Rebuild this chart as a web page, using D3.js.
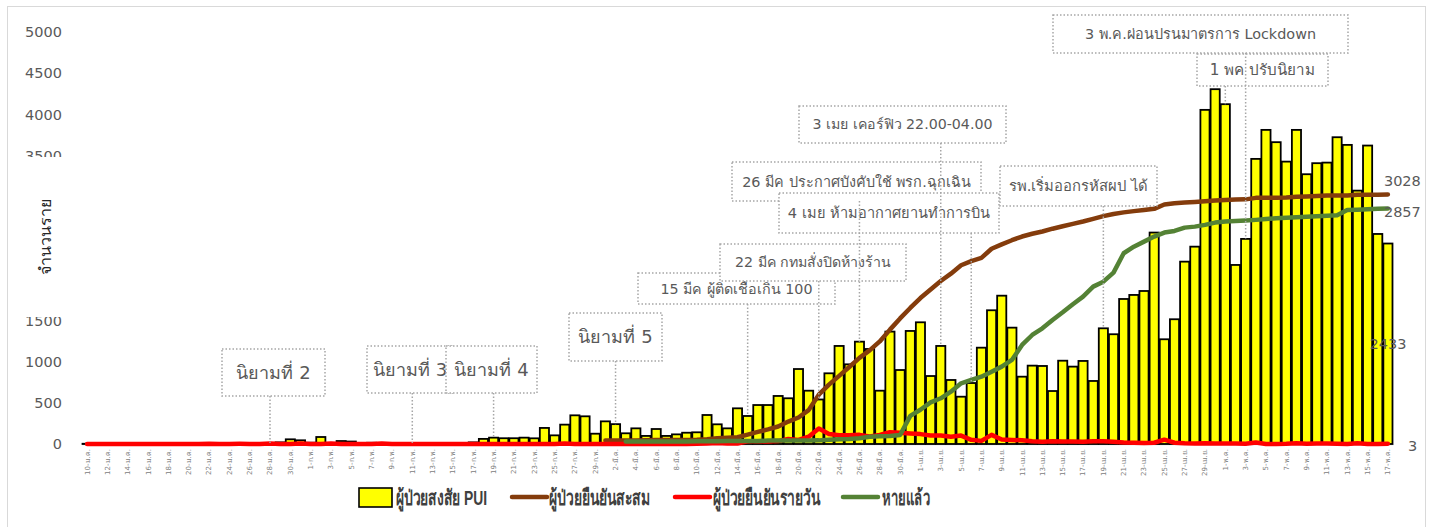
<!DOCTYPE html>
<html>
<head>
<meta charset="utf-8">
<script src="https://cdn.jsdelivr.net/npm/d3@7"></script>
<style>
body { margin: 0; background: #fff; }
</style>
</head>
<body>
<svg id="chart" width="1433" height="527" font-family="Tahoma, 'DejaVu Sans', sans-serif"></svg>
<script>
// categories: one bar per day, 10 Jan - 17 May
const monthNames = ["ม.ค.", "ก.พ.", "มี.ค.", "เม.ย.", "พ.ค."]
const monthFirst = [10, 1, 1, 1, 1]
const monthLast = [31, 29, 31, 30, 17]

const dates = []
monthNames.forEach((m, i) => {
    for (let d = monthFirst[i]; d <= monthLast[i]; d++) dates.push(d + "-" + m)
})

// ผู้ป่วยสงสัย PUI (daily)
const pui = [
    3, 0, 0, 1, 0, 0, 1, 0, 0, 0, 1, 0, 0, 1, 0, 2, 1, 12, 8, 20, 57, 45,
    16, 85, 10, 36, 30, 5, 15, 3, 2, 2, 12, 3, 3, 10, 3, 5, 20, 62, 77, 70, 70, 77, 69, 195, 105, 235, 348, 336, 125,
    275, 241, 130, 190, 98, 182, 98, 117, 137, 142, 352, 239, 190, 433, 340, 473, 473, 583, 555, 910, 647, 540, 858, 1190, 967, 1242, 1153, 647, 1364, 898, 1372,
    1477, 825, 1190, 777, 574, 740, 1169, 1623, 1800, 1412, 817, 951, 947, 643, 1011, 939, 1008, 765, 1404, 1332, 1760, 1809, 1857, 2566, 1271, 1514, 2213, 2395, 4055, 4306,
    4124, 2173, 2489, 3460, 3812, 3663, 3427, 3812, 3274, 3408, 3415, 3723, 3630, 3075, 3622, 2549, 2433
]

// ผู้ป่วยยืนยันสะสม, starts 1-มี.ค.
const confirmedStart = "1-มี.ค."
const confirmedTotal = [
    42, 43, 43, 43, 47, 48, 50, 50, 50, 53, 59, 70, 75, 82, 114, 147, 177, 212, 272, 322, 411, 599, 721, 827, 934, 1045, 1136, 1245, 1388, 1524, 1651,
    1771, 1875, 1978, 2067, 2169, 2220, 2258, 2369, 2423, 2473, 2518, 2551, 2579, 2613, 2643, 2672, 2700, 2733, 2765, 2792, 2811, 2826, 2839, 2854, 2907, 2922, 2931, 2938, 2947, 2954,
    2960, 2966, 2969, 2987, 2988, 2989, 2992, 3000, 3004, 3009, 3015, 3017, 3017, 3025, 3025, 3025, 3028
]

// ผู้ป่วยยืนยันรายวัน
const confirmedDaily = [
    0, 0, 0, 1, 0, 0, 0, 1, 0, 0, 0, 0, 2, 0, 1, 2, 1, 0, 6, 0, 0, 5,
    0, 0, 6, 0, 0, 0, 0, 7, 0, 0, 1, 0, 0, 0, 1, 0, 1, 0, 0, 0, 0, 0, 0, 0, 0, 5, 0, 1, 1,
    0, 1, 0, 0, 4, 1, 2, 0, 0, 3, 6, 11, 5, 7, 32, 33, 30, 35, 60, 50, 89, 188, 122, 106, 107, 111, 91, 109, 143, 136, 127,
    120, 104, 103, 89, 102, 51, 38, 111, 54, 50, 45, 33, 28, 34, 30, 29, 28, 33, 32, 27, 19, 15, 13, 15, 53, 15, 9, 7, 9, 7,
    6, 6, 3, 18, 1, 1, 3, 8, 4, 5, 6, 2, 0, 8, 0, 0, 3
]

// หายแล้ว, starts 3-มี.ค.
const recoveredStart = "3-มี.ค."
const recovered = [
    31, 31, 31, 31, 31, 31, 31, 33, 33, 34, 35, 35, 35, 35, 41, 42, 42, 42, 42, 44, 52, 57, 61, 70, 88, 95, 97, 110, 342,
    416, 505, 555, 635, 737, 777, 817, 878, 939, 1020, 1202, 1323, 1404, 1505, 1598, 1696, 1788, 1910, 1970, 2080, 2315, 2395, 2456, 2517, 2566, 2586, 2626, 2638, 2659, 2687,
    2699, 2705, 2712, 2720, 2730, 2740, 2747, 2752, 2758, 2765, 2770, 2776, 2840, 2844, 2850, 2855, 2857
]

const yTicks = [0, 500, 1000, 1500, 2000, 2500, 3000, 3500, 4000, 4500, 5000]

const notes = [
    { text: "นิยามที่ 2", date: "28-ม.ค." },
    { text: "นิยามที่ 3", date: "11-ก.พ." },
    { text: "นิยามที่ 4", date: "19-ก.พ." },
    { text: "นิยามที่ 5", date: "2-มี.ค." },
    { text: "15 มีค ผู้ติดเชื้อเกิน 100", date: "15-มี.ค." },
    { text: "22 มีค กทมสั่งปิดห้างร้าน", date: "22-มี.ค." },
    { text: "26 มีค ประกาศบังคับใช้ พรก.ฉุกเฉิน", date: "26-มี.ค." },
    { text: "3 เมย เคอร์ฟิว 22.00-04.00", date: "3-เม.ย." },
    { text: "4 เมย ห้ามอากาศยานทำการบิน", date: "6-เม.ย." },
    { text: "รพ.เริ่มออกรหัสผป ได้", date: "19-เม.ย." },
    { text: "1 พค ปรับนิยาม", date: "1-พ.ค." },
    { text: "3 พ.ค.ผ่อนปรนมาตรการ Lockdown", date: "3-พ.ค." }
]
// callout boxes, same order as notes: [x, y, w, h, fontSize]
const noteBoxes = [
    [222, 349, 103, 47, 18], [367, 346, 86, 47, 18], [446, 346, 91, 47, 18], [569, 313, 93, 48, 18],
    [638, 273, 197, 31, 14.3], [720, 244, 186, 37, 14.2], [732, 162, 249, 39, 14.4], [799, 106, 207, 37, 14.2],
    [779, 193, 220, 40, 14.6], [1000, 166, 157, 40, 14.8], [1197, 54, 131, 32, 15.2], [1053, 15, 295, 38, 14.4]
]

const svg = d3.select("#chart")

// outer frame
svg.append("rect")
    .attr("x", 7.5).attr("y", 6.5)
    .attr("width", 1418).attr("height", 524)
    .attr("fill", "none").attr("stroke", "#d9d9d9")

const x = d3.scaleBand().domain(dates).range([82, 1393]).paddingInner(0.1).paddingOuter(0.05)
const y = d3.scaleLinear().domain([0, 5000]).range([444, 32])
const cx = d => x(d) + x.bandwidth() / 2

// y axis
const yAxis = svg.append("g")
    .attr("transform", "translate(66,0)")
    .call(d3.axisLeft(y).tickValues(yTicks).tickFormat(d3.format("d")).tickSize(0).tickPadding(4))
yAxis.select(".domain").remove()
yAxis.selectAll("text")
    .attr("font-size", 14.5).attr("fill", "#595959")
    .attr("font-family", "'DejaVu Sans', sans-serif")

// y title with its white box over the middle ticks
svg.append("rect")
    .attr("x", 18).attr("y", 157).attr("width", 58).attr("height", 160)
    .attr("fill", "#fff")
svg.append("text")
    .text("จำนวนราย")
    .attr("transform", "translate(51,237) rotate(-90)")
    .attr("text-anchor", "middle")
    .attr("font-size", 16)
    .attr("fill", "#262626")

// x axis
const xAxis = svg.append("g")
    .attr("transform", "translate(0,444)")
    .call(d3.axisBottom(x).tickValues(dates.filter((d, i) => i % 2 == 0)).tickSize(0))
xAxis.select(".domain").attr("stroke", "#d9d9d9").attr("stroke-width", 1.5)
xAxis.selectAll("text")
    .attr("font-size", 7).attr("fill", "#808080")
    .attr("font-family", "'DejaVu Sans', sans-serif")
    .attr("text-anchor", "end")
    .attr("transform", "rotate(-90)")
    .attr("x", -5).attr("y", 0).attr("dy", "0.35em")

// PUI bars
svg.append("g").selectAll("rect")
    .data(pui)
    .join("rect")
    .attr("x", (d, i) => x(dates[i]))
    .attr("y", d => y(d))
    .attr("width", x.bandwidth())
    .attr("height", d => y(0) - y(d))
    .attr("fill", "#ffff00")
    .attr("stroke", "#000")
    .attr("stroke-width", 1.8)

// lines
const line = d3.line().x(d => cx(d[0])).y(d => y(d[1]))
function seriesFrom(start, values) {
    const s = dates.indexOf(start)
    return values.map((v, i) => [dates[s + i], v])
}
const series = [
    { data: seriesFrom(confirmedStart, confirmedTotal), color: "#843c0c" },
    { data: seriesFrom(dates[0], confirmedDaily), color: "#ff0000" },
    { data: seriesFrom(recoveredStart, recovered), color: "#548235" }
]
series.forEach(s => {
    svg.append("path")
        .attr("d", line(s.data))
        .attr("fill", "none")
        .attr("stroke", s.color)
        .attr("stroke-width", 4.5)
        .attr("stroke-linejoin", "round")
        .attr("stroke-linecap", "round")
})

// callout boxes
const noteG = svg.append("g")
notes.forEach((n, i) => {
    const b = noteBoxes[i]
    noteG.append("rect")
        .attr("x", b[0]).attr("y", b[1]).attr("width", b[2]).attr("height", b[3])
        .attr("fill", "#fff")
        .attr("stroke", "#a6a6a6").attr("stroke-width", 1.5)
        .attr("stroke-dasharray", "1.5,2")
    noteG.append("text")
        .text(n.text)
        .attr("x", b[0] + b[2] / 2).attr("y", b[1] + b[3] / 2)
        .attr("dy", "0.35em")
        .attr("text-anchor", "middle")
        .attr("font-size", b[4])
        .attr("fill", "#595959")
})
// leader lines on top
notes.forEach((n, i) => {
    const b = noteBoxes[i]
    svg.append("line")
        .attr("x1", cx(n.date)).attr("x2", cx(n.date))
        .attr("y1", b[1] + b[3]).attr("y2", y(pui[dates.indexOf(n.date)]))
        .attr("stroke", "#a6a6a6").attr("stroke-width", 1.5)
        .attr("stroke-dasharray", "1.5,2")
})

// end labels
const last = dates[dates.length - 1]
const endLabels = [
    { text: confirmedTotal[confirmedTotal.length - 1], x: cx(last) - 4, y: y(confirmedTotal[confirmedTotal.length - 1]) - 14, anchor: "start" },
    { text: recovered[recovered.length - 1], x: cx(last) - 4, y: y(recovered[recovered.length - 1]) + 3, anchor: "start" },
    { text: confirmedDaily[confirmedDaily.length - 1], x: cx(last) + 20, y: y(confirmedDaily[confirmedDaily.length - 1]) + 2, anchor: "start" },
    { text: pui[pui.length - 1], x: cx(last), y: (y(0) + y(pui[pui.length - 1])) / 2, anchor: "middle" }
]
endLabels.forEach(l => {
    svg.append("text")
        .text(l.text)
        .attr("x", l.x).attr("y", l.y).attr("dy", "0.35em")
        .attr("text-anchor", l.anchor)
        .attr("font-size", 14.5)
        .attr("font-family", "'DejaVu Sans', sans-serif")
        .attr("fill", "#595959")
})

// legend
const legend = svg.append("g").attr("transform", "translate(0,497)")
const legendItems = [
    { name: "ผู้ป่วยสงสัย PUI", type: "bar", color: "#ffff00", x: 359, textX: 396, textW: 91 },
    { name: "ผู้ป่วยยืนยันสะสม", type: "line", color: "#843c0c", x: 512, textX: 549, textW: 101 },
    { name: "ผู้ป่วยยืนยันรายวัน", type: "line", color: "#ff0000", x: 675, textX: 713, textW: 107 },
    { name: "หายแล้ว", type: "line", color: "#548235", x: 843, textX: 882, textW: 48 }
]
legendItems.forEach(it => {
    if (it.type == "bar") {
        legend.append("rect")
            .attr("x", it.x).attr("y", -9).attr("width", 33).attr("height", 19)
            .attr("fill", it.color).attr("stroke", "#000").attr("stroke-width", 1.6)
    } else {
        legend.append("line")
            .attr("x1", it.x).attr("x2", it.x + 35)
            .attr("stroke", it.color).attr("stroke-width", 4.5)
            .attr("stroke-linecap", "round")
    }
    legend.append("text")
        .text(it.name)
        .attr("x", it.textX)
        .attr("dy", "0.37em")
        .attr("font-size", 21)
        .attr("font-weight", "bold")
        .attr("font-family", "'Liberation Sans Narrow', 'Liberation Sans', sans-serif")
        .attr("textLength", it.textW)
        .attr("lengthAdjust", "spacingAndGlyphs")
        .attr("fill", "#404040")
})
</script>
</body>
</html>
